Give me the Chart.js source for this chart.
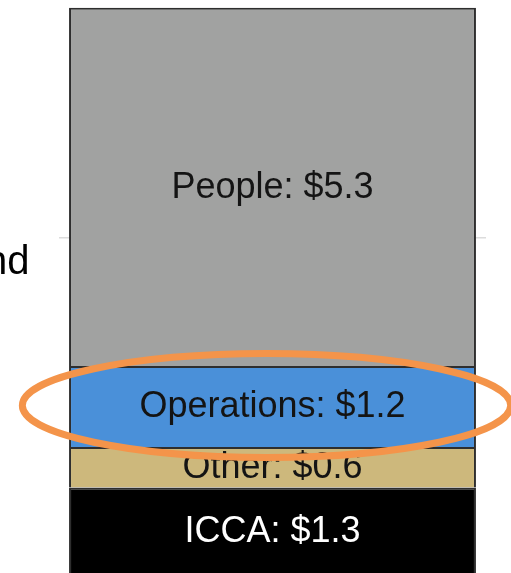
<!DOCTYPE html>
<html>
<head>
<meta charset="utf-8">
<script src="https://cdn.jsdelivr.net/npm/chart.js@4"></script>
<style>
  html, body { margin: 0; padding: 0; background: #fff; overflow: hidden; }
  body { width: 511px; height: 573px; position: relative; }
  #wrap { position: absolute; left: 0; top: -110px; width: 511px; height: 700px; }
</style>
</head>
<body>
<div id="wrap"><canvas id="budgetChart" width="511" height="700"></canvas></div>
<script>
// data, bottom of the stack first
const categories = ['Budget'];
const segmentNames = ['ICCA', 'Other', 'Operations', 'People'];
const segmentValues = [1.3, 0.6, 1.2, 5.3];
const segmentColors = ['#000000', '#cdb87c', '#4a90d9', '#a1a2a1'];
const labelColors = ['#ffffff', '#141414', '#141414', '#141414'];
const yTicks = [0, 5, 10];
const highlighted = 'Operations';
const sideLabel = 'nd';

const FONT = '"Liberation Sans", Arial, Helvetica, sans-serif';

const segmentLabels = {
    id: 'segmentLabels',
    afterDatasetsDraw(chart) {
        const ctx = chart.ctx;
        ctx.save();
        ctx.font = '36px ' + FONT;
        ctx.textAlign = 'center';
        ctx.textBaseline = 'middle';
        chart.data.datasets.forEach((ds, i) => {
            const el = chart.getDatasetMeta(i).data[0];
            ctx.fillStyle = labelColors[i];
            ctx.fillText(`${ds.label}: $${ds.data[0].toFixed(1)}`, el.x, (el.y + el.base) / 2 + 1);
        });
        ctx.restore();
    }
};

// orange ring drawn round the highlighted segment
const highlightRing = {
    id: 'highlightRing',
    afterDraw(chart) {
        const i = segmentNames.indexOf(highlighted);
        const el = chart.getDatasetMeta(i).data[0];
        const ctx = chart.ctx;
        ctx.save();
        ctx.strokeStyle = '#f4944a';
        ctx.lineWidth = 7;
        ctx.beginPath();
        ctx.ellipse(el.x - 6, (el.y + el.base) / 2 - 1, el.width * 0.6, (el.base - el.y) * 0.64, 0, 0, Math.PI * 2);
        ctx.stroke();
        ctx.restore();
    }
};

// text cut off at the left edge of the picture
const sideText = {
    id: 'sideText',
    afterDraw(chart) {
        const ctx = chart.ctx;
        ctx.save();
        ctx.font = '40px ' + FONT;
        ctx.fillStyle = '#000';
        ctx.textAlign = 'right';
        ctx.textBaseline = 'alphabetic';
        ctx.fillText(sideLabel, 29.5, 384);
        ctx.restore();
    }
};

document.addEventListener('DOMContentLoaded', () => {
    const ctx = document.getElementById('budgetChart').getContext('2d');
    new Chart(ctx, {
        type: 'bar',
        data: {
            labels: categories,
            datasets: segmentNames.map((name, i) => ({
                label: name,
                data: [segmentValues[i]],
                backgroundColor: segmentColors[i],
                borderColor: '#2e2e2e',
                borderWidth: 2,
                barPercentage: 0.953,
                categoryPercentage: 1
            }))
        },
        options: {
            responsive: false,
            animation: false,
            devicePixelRatio: 1,
            layout: { padding: { left: 59, right: 25, top: 9.5, bottom: 14.5 } },
            plugins: {
                legend: { display: false },
                tooltip: { enabled: false }
            },
            scales: {
                x: { stacked: true, display: false },
                y: {
                    stacked: true,
                    min: yTicks[0],
                    max: yTicks[yTicks.length - 1],
                    afterBuildTicks: (scale) => { scale.ticks = yTicks.map(v => ({ value: v })); },
                    afterFit: (scale) => { scale.width = 0; },
                    ticks: { display: false },
                    border: { display: false },
                    grid: { color: '#dcdcdc', lineWidth: 1.5, drawTicks: false }
                }
            }
        },
        plugins: [segmentLabels, highlightRing, sideText]
    });
});
</script>
</body>
</html>
